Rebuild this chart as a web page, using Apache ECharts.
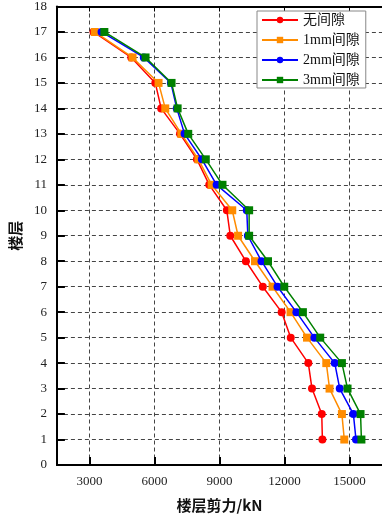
<!DOCTYPE html>
<html>
<head>
<meta charset="utf-8">
<script src="https://cdn.jsdelivr.net/npm/echarts@6/dist/echarts.min.js"></script>
<style>html,body{margin:0;padding:0;background:#fff}#c{width:382px;height:518px}</style>
</head>
<body>
<div id="c"></div>
<script>
const floors = [1,2,3,4,5,6,7,8,9,10,11,12,13,14,15,16,17];
const seriesNames = ['无间隙','1mm间隙','2mm间隙','3mm间隙'];
const noGap   = [13750,13720,13270,13100,12290,11870,11000,10220,9500,9340,8530,7960,7180,6310,6040,4930,3190];
const gap1mm  = [14760,14650,14080,13930,13040,12280,11450,10640,9860,9590,8640,8030,7240,6500,6190,4990,3250];
const gap2mm  = [15300,15180,14550,14320,13380,12550,11680,10940,10310,10260,8870,8190,7390,7030,6760,5510,3560];
const gap3mm  = [15550,15510,14910,14650,13650,12850,11990,11240,10370,10370,9140,8370,7560,7070,6790,5590,3690];
const xTicks = [3000,6000,9000,12000,15000];
const colors = ['#ff0000','#ff8c00','#0000ff','#008000'];
const symbols = ['circle','rect','circle','rect'];
const allData = [noGap, gap1mm, gap2mm, gap3mm];

const serif = "'Liberation Serif','Times New Roman',serif";
const chart = echarts.init(document.getElementById('c'), null, {renderer:'canvas'});
const series = allData.map((vals, i) => ({
  name: seriesNames[i],
  type: 'line',
  data: vals.map((v, k) => [v, floors[k]]),
  symbol: symbols[i],
  symbolSize: 8,
  color: colors[i],
  lineStyle: {width: 1.5, color: colors[i]},
  itemStyle: {color: colors[i]},
  z: 3 + i
}));

chart.setOption({
  animation: false,
  backgroundColor: '#fff',
  grid: {left: 53, top: 6, bottom: 50, right: -4},
  legend: {
    orient: 'vertical', left: 257, top: 11,
    data: seriesNames,
    backgroundColor: '#fff', borderColor: '#888', borderWidth: 1,
    padding: [2, 6, 1, 4], itemGap: 6, itemWidth: 36, itemHeight: 8,
    textStyle: {fontSize: 14, color: '#111', fontFamily: "'Liberation Serif','Noto Sans CJK SC',serif"}
  },
  xAxis: [{
    type: 'value', min: 1500, max: 16500, position: 'bottom',
    name: '楼层剪力/kN', nameLocation: 'middle', nameGap: 33,
    nameTextStyle: {fontSize: 15, fontWeight: 'bold', color: '#111', fontFamily: "'Noto Sans CJK SC',sans-serif"},
    axisLine: {onZero: false, lineStyle: {color: '#000', width: 2}},
    axisTick: {inside: true, length: 8, lineStyle: {color: '#000', width: 2}, customValues: xTicks},
    axisLabel: {fontSize: 13, color: '#222', fontFamily: serif, margin: 10, customValues: xTicks, formatter: v => String(v)},
    splitLine: {show: true, lineStyle: {type: [4,3], color: '#444', width: 1}}
  }, {
    type: 'value', min: 1500, max: 16500, position: 'top',
    axisLine: {onZero: false, lineStyle: {color: '#000', width: 2}},
    axisTick: {inside: true, length: 5, lineStyle: {color: '#000', width: 1}, customValues: xTicks},
    axisLabel: {show: false},
    splitLine: {show: false}
  }],
  yAxis: {
    type: 'value', min: 0, max: 18, interval: 1,
    name: '楼层', nameLocation: 'middle', nameGap: 29,
    nameTextStyle: {fontSize: 15, fontWeight: 'bold', color: '#111', fontFamily: "'Noto Sans CJK SC',sans-serif"},
    axisLine: {onZero: false, lineStyle: {color: '#000', width: 2}},
    axisTick: {inside: true, length: 8, lineStyle: {color: '#000', width: 2}},
    axisLabel: {fontSize: 13, color: '#222', fontFamily: serif, margin: 10},
    splitLine: {show: true, lineStyle: {type: [4,3], color: '#444', width: 1}}
  },
  series: series
});
</script>
</body>
</html>
